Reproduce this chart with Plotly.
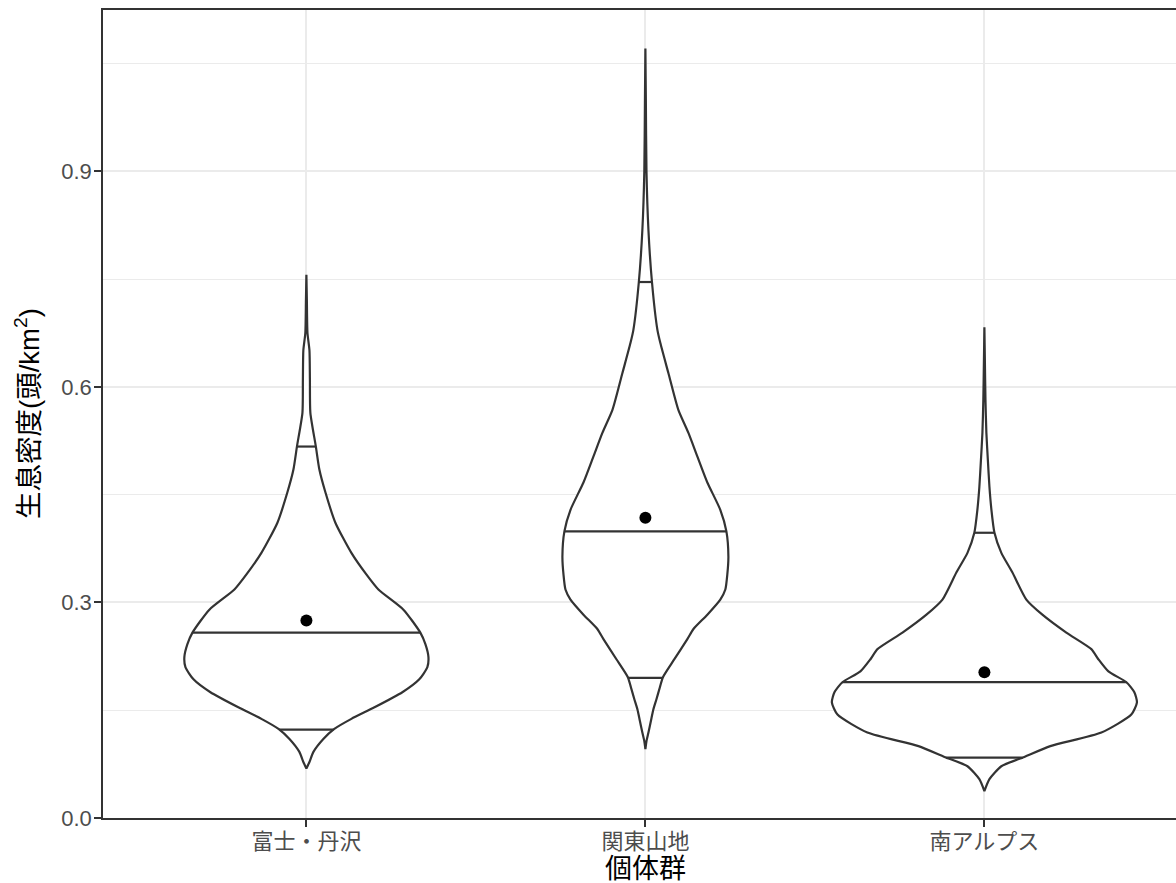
import numpy as np
import plotly.graph_objects as go

# Populations on the x axis
groups = ["富士・丹沢", "関東山地", "南アルプス"]

# Density profiles: y = density (head/km2), d = kernel density scaled so the widest violin = 1
fuji_y = [0.069, 0.078, 0.092, 0.110, 0.124, 0.138, 0.154, 0.175, 0.193, 0.210, 0.224,
          0.242, 0.258, 0.290, 0.318, 0.339, 0.369, 0.411, 0.453, 0.485, 0.517, 0.564,
          0.610, 0.651, 0.675, 0.721, 0.756]
fuji_d = [0.000, 0.020, 0.046, 0.111, 0.183, 0.295, 0.446, 0.629, 0.740, 0.793, 0.800,
          0.780, 0.747, 0.636, 0.472, 0.393, 0.295, 0.190, 0.125, 0.085, 0.062, 0.026,
          0.023, 0.020, 0.007, 0.003, 0.000]

kanto_y = [0.096, 0.108, 0.119, 0.135, 0.151, 0.165, 0.182, 0.196, 0.221, 0.249, 0.263,
           0.283, 0.304, 0.318, 0.339, 0.364, 0.399, 0.429, 0.467, 0.503, 0.536, 0.568,
           0.619, 0.661, 0.679, 0.746, 0.818, 0.901, 0.999, 1.071]
kanto_d = [0.000, 0.008, 0.020, 0.036, 0.052, 0.072, 0.095, 0.115, 0.190, 0.275, 0.315,
           0.406, 0.491, 0.524, 0.537, 0.544, 0.531, 0.491, 0.406, 0.341, 0.282, 0.216,
           0.151, 0.098, 0.079, 0.043, 0.020, 0.007, 0.003, 0.000]

minami_y = [0.0375, 0.054, 0.072, 0.085, 0.100, 0.119, 0.144, 0.161, 0.175, 0.189, 0.204,
            0.221, 0.235, 0.258, 0.283, 0.304, 0.342, 0.369, 0.397, 0.429, 0.461, 0.497,
            0.536, 0.582, 0.638, 0.683]
minami_d = [0.000, 0.033, 0.111, 0.262, 0.432, 0.767, 0.963, 1.000, 0.983, 0.931, 0.813,
            0.747, 0.701, 0.537, 0.380, 0.275, 0.183, 0.111, 0.066, 0.046, 0.033, 0.023,
            0.013, 0.007, 0.003, 0.000]

# 2.5%, 50%, 97.5% quantiles and group means
fuji_q = [0.123, 0.258, 0.517]
kanto_q = [0.195, 0.399, 0.746]
minami_q = [0.084, 0.189, 0.397]
means = [0.275, 0.418, 0.203]

y_ticks = [0.0, 0.3, 0.6, 0.9]
y_tick_labels = ["0.0", "0.3", "0.6", "0.9"]
y_minor = [0.15, 0.45, 0.75, 1.05]

VIOLIN_WIDTH = 0.9
LINE = "#333333"
FONT = "Liberation Sans, Noto Sans CJK JP, sans-serif"

profiles = [(fuji_y, fuji_d, fuji_q), (kanto_y, kanto_d, kanto_q), (minami_y, minami_d, minami_q)]
positions = [1, 2, 3]

fig = go.Figure()

for pos, (ys, ds, qs) in zip(positions, profiles):
    ys = np.asarray(ys)
    half = np.asarray(ds) * VIOLIN_WIDTH / 2
    xs = np.concatenate([pos - half, (pos + half)[::-1], [pos - half[0]]])
    yy = np.concatenate([ys, ys[::-1], [ys[0]]])
    fig.add_trace(go.Scatter(
        x=xs, y=yy, mode="lines", fill="toself", fillcolor="white",
        line=dict(color=LINE, width=2.2, shape="spline", smoothing=0.6),
        hoverinfo="skip", showlegend=False,
    ))
    for q in qs:
        hw = np.interp(q, ys, ds) * VIOLIN_WIDTH / 2
        fig.add_trace(go.Scatter(
            x=[pos - hw, pos + hw], y=[q, q], mode="lines",
            line=dict(color=LINE, width=2.2), hoverinfo="skip", showlegend=False,
        ))

fig.add_trace(go.Scatter(
    x=positions, y=means, mode="markers",
    marker=dict(color="black", size=12), showlegend=False,
))

fig.update_layout(
    width=1176, height=883,
    margin=dict(l=103, r=0, t=10, b=65),
    plot_bgcolor="white", paper_bgcolor="white",
    font=dict(family=FONT, color="#4D4D4D", size=22),
    showlegend=False,
)

fig.update_xaxes(
    range=[0.4, 0.4 + 1073 / 339],
    tickmode="array", tickvals=positions, ticktext=groups,
    showgrid=True, gridcolor="#EBEBEB", gridwidth=2,
    showline=True, linecolor=LINE, linewidth=1.5, mirror=True,
    ticks="outside", ticklen=7, tickwidth=1.5, tickcolor=LINE,
    tickfont=dict(size=22, color="#4D4D4D"),
    ticklabelstandoff=-4,
    zeroline=False, fixedrange=True,
)

fig.update_yaxes(
    range=[0, 1.1246],
    tickmode="array", tickvals=y_ticks, ticktext=y_tick_labels,
    showgrid=True, gridcolor="#EBEBEB", gridwidth=2,
    minor=dict(tickmode="array", tickvals=y_minor,
               showgrid=True, gridcolor="#EBEBEB", gridwidth=1, ticks=""),
    showline=True, linecolor=LINE, linewidth=1.5, mirror=False,
    ticks="outside", ticklen=7, tickwidth=1.5, tickcolor=LINE,
    tickfont=dict(size=22, color="#4D4D4D"),
    ticklabelstandoff=-2,
    zeroline=False, fixedrange=True,
)

fig.add_annotation(
    text="個体群", x=2, xref="x", y=-0.0635, yref="paper",
    xanchor="center", yanchor="middle", showarrow=False,
    font=dict(size=27, color="black", family=FONT),
)
fig.add_annotation(
    text="生息密度(頭/km<sup>2</sup>)", x=-0.0708, xref="paper", y=0.5, yref="paper",
    xanchor="center", yanchor="middle", textangle=-90, showarrow=False,
    font=dict(size=27.5, color="black", family=FONT),
)

fig.write_html("out.html")
